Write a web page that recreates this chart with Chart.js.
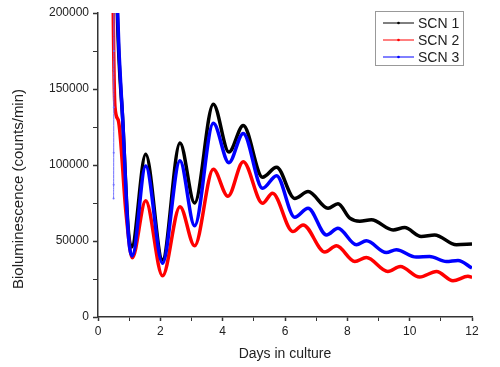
<!DOCTYPE html>
<html>
<head>
<meta charset="utf-8">
<script src="https://cdn.jsdelivr.net/npm/chart.js@4.4.0/dist/chart.umd.min.js"></script>
<style>
  body { margin: 0; background: #fff; }
</style>
</head>
<body>
<canvas id="myChart" width="500" height="367"></canvas>
<script>
// Bioluminescence of three SCN cultures
const scn1Days = [0.5, 0.505, 0.55, 0.62, 0.8, 0.97, 1.08, 1.53, 2.07, 2.63, 3.1, 3.7, 4.2, 4.66, 5.28, 5.73, 6.31, 6.74, 7.38, 7.7, 8.08, 8.4, 8.77, 9.47, 9.84, 10.37, 10.8, 11.5, 12];
const scn1Values = [162000, 185000, 280000, 200000, 127000, 58000, 46000, 107000, 37500, 114500, 75000, 140000, 108500, 126000, 92000, 98500, 78000, 82500, 71500, 74500, 65000, 63000, 64000, 57300, 58800, 53000, 54000, 47500, 48000];

const scn2Days = [0.47, 0.49, 0.545, 0.65, 0.9, 1.1, 1.53, 2.07, 2.63, 3.1, 3.7, 4.17, 4.66, 5.28, 5.6, 6.25, 6.58, 7.28, 7.65, 8.24, 8.61, 9.3, 9.7, 10.32, 10.86, 11.39, 11.87, 12];
const scn2Values = [260000, 200000, 138000, 129500, 68000, 39000, 76400, 27100, 72600, 46800, 97200, 79400, 102200, 74800, 81400, 56200, 60600, 42700, 46800, 36500, 39100, 29900, 33200, 26300, 29900, 23800, 26800, 26000];

const scn3Days = [0.5, 0.502, 0.504, 0.506, 0.508, 0.55, 0.63, 0.8, 0.97, 1.1, 1.53, 2.07, 2.63, 3.1, 3.7, 4.2, 4.66, 5.28, 5.73, 6.31, 6.74, 7.33, 7.7, 8.29, 8.61, 9.25, 9.57, 10.21, 10.64, 11.18, 11.55, 12];
const scn3Values = [78000, 87000, 108000, 138000, 175000, 280000, 200000, 127000, 55000, 40200, 99300, 35400, 102800, 60000, 127400, 101500, 120800, 84700, 93000, 65700, 71600, 54000, 58400, 47500, 50100, 42400, 44200, 39400, 39800, 36500, 37200, 32200];

const labels = ["SCN 1", "SCN 2", "SCN 3"];
const colors = ["#000000", "#ff0000", "#0000ff"];
const thinColors = ["#666666", "#ff6666", "#6f6fff"];
// points before the first peak are drawn with a thin line
const thinUntil = [2, 0, 5];
// blue on top, black at the bottom
const drawOrder = [2, 1, 0];

const FONT = "'Liberation Sans', Arial, sans-serif";

function toPoints(days, values) {
  return days.map((d, i) => ({ x: d, y: values[i] }));
}

const seriesDays = [scn1Days, scn2Days, scn3Days];
const seriesValues = [scn1Values, scn2Values, scn3Values];

const datasets = labels.map((label, k) => ({
  label: label,
  data: toPoints(seriesDays[k], seriesValues[k]),
  order: drawOrder[k],
  borderColor: colors[k],
  backgroundColor: thinColors[k],
  borderWidth: 3.5,
  pointRadius: (c) => (c.dataIndex < thinUntil[k] ? 1 : 0),
  pointBorderWidth: 0,
  cubicInterpolationMode: "monotone",
  segment: {
    borderWidth: (c) => (c.p0DataIndex < thinUntil[k] ? 1 : 3.5),
    borderColor: (c) => (c.p0DataIndex < thinUntil[k] ? thinColors[k] : colors[k]),
  },
}));

// legend box + y axis title
const extras = {
  id: "extras",
  afterDraw(chart) {
    const c = chart.ctx;
    c.save();
    // y title
    c.translate(19, 189);
    c.rotate(-Math.PI / 2);
    c.font = "15px " + FONT;
    c.fillStyle = "#222";
    c.textAlign = "center";
    c.textBaseline = "middle";
    c.fillText("Bioluminescence (counts/min)", 0, 0);
    c.restore();

    c.save();
    c.strokeStyle = "#999";
    c.lineWidth = 1;
    c.strokeRect(375.5, 11.5, 88, 54);
    chart.data.datasets.forEach((ds, i) => {
      const y = 23 + i * 17;
      c.strokeStyle = ds.borderColor;
      c.lineWidth = 1;
      c.beginPath();
      c.moveTo(383, y);
      c.lineTo(414, y);
      c.stroke();
      c.fillStyle = ds.borderColor;
      c.beginPath();
      c.arc(398.5, y, 1.3, 0, Math.PI * 2);
      c.fill();
      c.fillStyle = "#222";
      c.font = "14px " + FONT;
      c.textBaseline = "middle";
      c.fillText(ds.label, 418, y + 1);
    });
    c.restore();
  },
};

const config = {
  type: "line",
  data: { datasets },
  options: {
    responsive: false,
    animation: false,
    layout: { padding: { top: 13, right: 28, left: 0, bottom: 0 } },
    plugins: { legend: { display: false }, tooltip: { enabled: false } },
    scales: {
      x: {
        type: "linear",
        min: 0,
        max: 12,
        afterFit: (s) => { s.height = 50; },
        border: { display: true, color: "#333", width: 1.5 },
        grid: {
          drawOnChartArea: false,
          drawTicks: true,
          tickLength: 4,
          tickColor: "#333",
          tickWidth: (c) => (c.tick && c.tick.value % 2 === 0 ? 1.5 : 1),
        },
        ticks: {
          stepSize: 1,
          autoSkip: false,
          maxRotation: 0,
          padding: 3,
          color: "#222",
          font: { family: FONT, size: 12 },
          callback: (v) => (v % 2 === 0 ? String(v) : ""),
        },
        title: {
          display: true,
          text: "Days in culture",
          color: "#222",
          font: { family: FONT, size: 14 },
          padding: { top: 0, bottom: 4 },
        },
      },
      y: {
        min: 0,
        max: 200000,
        afterFit: (s) => { s.width = 98; },
        border: { display: true, color: "#333", width: 1.5 },
        grid: {
          drawOnChartArea: false,
          drawTicks: true,
          tickLength: 5,
          tickColor: "#333",
          tickWidth: (c) => (c.tick && c.tick.value % 50000 === 0 ? 1.5 : 1),
        },
        ticks: {
          stepSize: 25000,
          autoSkip: false,
          padding: 4,
          color: "#222",
          font: { family: FONT, size: 12 },
          callback: (v) => (v % 50000 === 0 ? String(v) : ""),
        },
      },
    },
  },
  plugins: [extras],
};

const myChart = new Chart(document.getElementById("myChart"), config);
</script>
</body>
</html>
